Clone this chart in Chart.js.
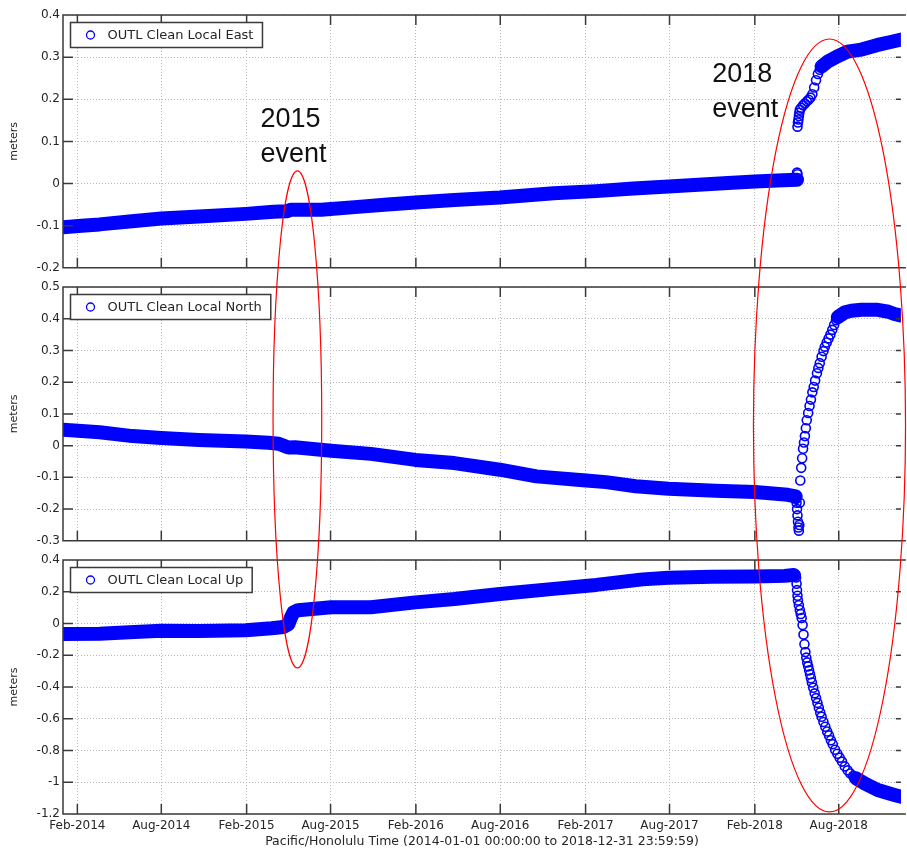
<!DOCTYPE html>
<html>
<head>
<meta charset="utf-8">
<script src="https://cdn.jsdelivr.net/npm/chart.js@4.4.1/dist/chart.umd.min.js"></script>
<style>
  html, body { margin: 0; padding: 0; background: #fff; }
  #wrap { position: relative; width: 907px; height: 849px; overflow: hidden; }
  canvas { position: absolute; left: 0; }
</style>
</head>
<body>
<div id="wrap">
  <canvas id="east" width="907" height="278" style="top:0px"></canvas>
  <canvas id="north" width="907" height="276" style="top:275px"></canvas>
  <canvas id="up" width="907" height="301" style="top:548px"></canvas>
  <canvas id="overlay" width="907" height="849" style="top:0px"></canvas>
</div>
<script>
// x values are days since 2014-01-01 (Pacific/Honolulu)
const tickDays = [31, 212, 396, 577, 761, 943, 1127, 1308, 1492, 1673];
const tickLabels = ["Feb-2014", "Aug-2014", "Feb-2015", "Aug-2015", "Feb-2016",
  "Aug-2016", "Feb-2017", "Aug-2017", "Feb-2018", "Aug-2018"];
const dayMax = 1807; // picture is cut off just before 2018-12-31

const seriesLabels = ["OUTL Clean Local East", "OUTL Clean Local North", "OUTL Clean Local Up"];
const xTitle = "Pacific/Honolulu Time (2014-01-01 00:00:00 to 2018-12-31 23:59:59)";

// === East ===
const eastBandDays = [0, 40, 79, 143, 212, 293, 394, 454, 482, 492, 507, 557, 629, 700, 760,
  844, 942, 1058, 1150, 1230, 1306, 1370, 1434, 1492, 1540, 1583, 1600, 1636, 1650, 1670,
  1692, 1722, 1757, 1785, 1808];
const eastBandValues = [-0.104, -0.100, -0.097, -0.090, -0.083, -0.078, -0.072, -0.067, -0.066, -0.062,
  -0.062, -0.062, -0.056, -0.050, -0.045, -0.039, -0.033, -0.023, -0.018, -0.012,
  -0.007, -0.003, 0.001, 0.005, 0.007, 0.009, null, 0.278, 0.290, 0.302,
  0.313, 0.318, 0.329, 0.336, 0.342];
const eastEventDays = [1583, 1584, 1584, 1585, 1586, 1587, 1588, 1589, 1592, 1596,
  1600, 1604, 1608, 1612, 1616, 1620, 1624, 1628, 1632];
const eastEventValues = [0.026, 0.022, 0.135, 0.145, 0.152, 0.160, 0.168, 0.175, 0.180, 0.186,
  0.190, 0.195, 0.199, 0.204, 0.212, 0.228, 0.245, 0.260, 0.270];

// === North ===
const northBandDays = [0, 40, 79, 150, 212, 293, 394, 443, 465, 486, 500, 578, 664, 760, 844,
  942, 1021, 1128, 1171, 1235, 1306, 1407, 1492, 1563, 1580, 1620, 1671, 1686, 1700, 1722,
  1757, 1780, 1793, 1808];
const northBandValues = [0.050, 0.046, 0.042, 0.030, 0.024, 0.018, 0.013, 0.009, 0.006, -0.006,
  -0.005, -0.016, -0.026, -0.045, -0.055, -0.076, -0.097, -0.110, -0.115, -0.128,
  -0.136, -0.142, -0.146, -0.155, -0.160, null, 0.405, 0.420, 0.425, 0.428,
  0.428, 0.422, 0.415, 0.410];
const northEventDays = [1581, 1582, 1583, 1584, 1585, 1586, 1587, 1588, 1589, 1590,
  1592, 1594, 1596, 1598, 1600, 1602, 1604, 1607, 1610, 1613,
  1616, 1619, 1622, 1626, 1629, 1632, 1636, 1640, 1643, 1647,
  1651, 1655, 1659, 1663, 1667];
const northEventValues = [-0.168, -0.180, -0.200, -0.220, -0.240, -0.258, -0.268, -0.250, -0.180, -0.110,
  -0.070, -0.040, -0.010, 0.010, 0.030, 0.055, 0.080, 0.103, 0.125, 0.145,
  0.168, 0.185, 0.205, 0.228, 0.245, 0.260, 0.280, 0.298, 0.312, 0.325,
  0.338, 0.350, 0.365, 0.380, 0.395];

// === Up ===
const upBandDays = [0, 79, 143, 212, 293, 394, 450, 475, 486, 492, 497, 507, 578, 664, 760,
  844, 942, 1058, 1150, 1250, 1306, 1400, 1492, 1556, 1576, 1600, 1710, 1730, 1757, 1775,
  1793, 1808];
const upBandValues = [-0.066, -0.064, -0.055, -0.045, -0.048, -0.042, -0.030, -0.022, -0.005, 0.040,
  0.070, 0.084, 0.102, 0.102, 0.133, 0.154, 0.186, 0.218, 0.243, 0.278,
  0.288, 0.295, 0.296, 0.300, 0.305, null, -0.975, -1.010, -1.049, -1.065,
  -1.080, -1.092];
const upEventDays = [1578, 1580, 1581, 1582, 1583, 1584, 1585, 1587, 1589, 1591,
  1593, 1595, 1597, 1599, 1601, 1603, 1605, 1607, 1609, 1611,
  1613, 1615, 1618, 1621, 1624, 1627, 1630, 1633, 1636, 1640,
  1644, 1648, 1652, 1656, 1660, 1665, 1670, 1675, 1680, 1686,
  1692, 1698, 1704];
const upEventValues = [0.310, 0.305, 0.290, 0.250, 0.210, 0.175, 0.145, 0.115, 0.085, 0.060,
  0.035, -0.010, -0.070, -0.130, -0.180, -0.215, -0.245, -0.270, -0.295, -0.320,
  -0.345, -0.372, -0.405, -0.440, -0.470, -0.500, -0.530, -0.560, -0.587, -0.620,
  -0.650, -0.680, -0.705, -0.735, -0.760, -0.795, -0.820, -0.845, -0.870, -0.900,
  -0.925, -0.945, -0.960];

// red ellipses + notes, in data units (x: days, top on East axis, bottom on Up axis)
const ellipses = [
  { fromDay: 453, toDay: 558, topEast: 0.03, bottomUp: -0.28 },
  { fromDay: 1489, toDay: 1817, topEast: 0.343, bottomUp: -1.187 },
];
const notes = [
  { lines: ["2015", "event"], day: 426, east: 0.134 },
  { lines: ["2018", "event"], day: 1400, east: 0.241 },
];

const BLUE = "#0000ff";
const INK = "#262626";
const AXIS = "#3a3a3a";
const GRID = "#b8b8b8";
const FONT = "'DejaVu Sans', sans-serif";

function pairs(days, values) {
  return days.map((d, i) => ({ x: d, y: values[i] }));
}

// box, inward ticks and the boxed legend (matlab look)
const frame = {
  id: "frame",
  afterDraw(chart) {
    const { ctx, chartArea: a, scales } = chart;
    const x = scales.x, y = scales.y;
    ctx.save();
    ctx.strokeStyle = AXIS;
    ctx.lineWidth = 1.5;
    ctx.beginPath();
    ctx.moveTo(a.right + 5, a.top);
    ctx.lineTo(a.left, a.top);
    ctx.lineTo(a.left, a.bottom);
    ctx.lineTo(a.right + 5, a.bottom);
    x.ticks.forEach((t) => {
      const p = x.getPixelForValue(t.value);
      ctx.moveTo(p, a.bottom);
      ctx.lineTo(p, a.bottom - 10);
      ctx.moveTo(p, a.top);
      ctx.lineTo(p, a.top + 10);
    });
    y.ticks.forEach((t) => {
      const p = y.getPixelForValue(t.value);
      ctx.moveTo(a.left, p);
      ctx.lineTo(a.left + 10, p);
      ctx.moveTo(a.right, p);
      ctx.lineTo(a.right - 5, p);
    });
    ctx.stroke();

    // legend
    const label = chart.data.datasets[1].label;
    ctx.font = "13px " + FONT;
    const bx = a.left + 7.5, by = a.top + 7.5, bh = 25;
    const bw = 46 + ctx.measureText(label).width;
    ctx.fillStyle = "#fff";
    ctx.fillRect(bx, by, bw, bh);
    ctx.strokeRect(bx, by, bw, bh);
    ctx.beginPath();
    ctx.arc(bx + 20, by + bh / 2, 4, 0, Math.PI * 2);
    ctx.strokeStyle = BLUE;
    ctx.lineWidth = 1.3;
    ctx.stroke();
    ctx.fillStyle = INK;
    ctx.textBaseline = "middle";
    ctx.fillText(label, bx + 37, by + bh / 2 + 0.5);
    ctx.restore();
  },
};

function makePanel(id, cfg) {
  return new Chart(document.getElementById(id), {
    type: "scatter",
    data: {
      datasets: [
        {
          label: cfg.label,
          data: pairs(cfg.bandDays, cfg.bandValues),
          showLine: true,
          borderColor: BLUE,
          borderWidth: 14,
          borderCapStyle: "round",
          borderJoinStyle: "round",
          pointRadius: 0,
          clip: 0,
        },
        {
          label: cfg.label,
          data: pairs(cfg.eventDays, cfg.eventValues),
          showLine: false,
          pointRadius: 4.5,
          pointBorderWidth: 1.6,
          borderColor: BLUE,
          backgroundColor: "rgba(0,0,0,0)",
          clip: 0,
        },
      ],
    },
    options: {
      responsive: false,
      animation: false,
      devicePixelRatio: 1,
      layout: { padding: { top: cfg.padTop, bottom: cfg.padBottom, left: 0, right: 0 } },
      plugins: { legend: { display: false }, tooltip: { enabled: false } },
      scales: {
        x: {
          type: "linear",
          min: 0,
          max: dayMax,
          afterBuildTicks: (s) => {
            s.ticks = tickDays.map((v) => ({ value: v }));
          },
          afterFit: (s) => {
            s.height = cfg.xHeight;
          },
          grid: { color: GRID, lineWidth: 1, drawTicks: false },
          border: { display: false, dash: [1, 2] },
          ticks: {
            display: cfg.showX,
            autoSkip: false,
            maxRotation: 0,
            padding: 5,
            color: INK,
            font: { family: FONT, size: 12 },
            callback: (v, i) => tickLabels[i],
          },
          title: {
            display: cfg.showX,
            text: xTitle,
            color: INK,
            font: { family: FONT, size: 12.5 },
            padding: { top: 0, bottom: 0 },
          },
        },
        y: {
          min: cfg.min,
          max: cfg.max,
          afterFit: (s) => {
            s.width = 63;
          },
          grid: { color: GRID, lineWidth: 1, drawTicks: false },
          border: { display: false, dash: [1, 2] },
          ticks: {
            stepSize: cfg.step,
            padding: 3,
            color: INK,
            font: { family: FONT, size: 12 },
            callback: (v) => String(Math.round(v * 10) / 10),
          },
          title: {
            display: true,
            text: "meters",
            color: INK,
            font: { family: FONT, size: 11 },
            padding: { top: 8, bottom: 0 },
          },
        },
      },
    },
    plugins: [frame],
  });
}

const panels = [
  makePanel("east", {
    label: seriesLabels[0], bandDays: eastBandDays, bandValues: eastBandValues,
    eventDays: eastEventDays, eventValues: eastEventValues,
    min: -0.2, max: 0.4, step: 0.1, padTop: 15, padBottom: 10, xHeight: 0, showX: false,
  }),
  makePanel("north", {
    label: seriesLabels[1], bandDays: northBandDays, bandValues: northBandValues,
    eventDays: northEventDays, eventValues: northEventValues,
    min: -0.3, max: 0.5, step: 0.1, padTop: 12, padBottom: 10, xHeight: 0, showX: false,
  }),
  makePanel("up", {
    label: seriesLabels[2], bandDays: upBandDays, bandValues: upBandValues,
    eventDays: upEventDays, eventValues: upEventValues,
    min: -1.2, max: 0.4, step: 0.2, padTop: 12, padBottom: 0, xHeight: 35, showX: true,
  }),
];

// === Overlay: red ellipses and event notes across panels ===
function drawOverlay() {
  const ctx = document.getElementById("overlay").getContext("2d");
  const east = panels[0], up = panels[2];
  const xs = up.scales.x;
  const eastTop = east.canvas.offsetTop, upTop = up.canvas.offsetTop;

  ctx.strokeStyle = "#ff0000";
  ctx.lineWidth = 1.2;
  ellipses.forEach((e) => {
    const x1 = xs.getPixelForValue(e.fromDay);
    const x2 = xs.getPixelForValue(e.toDay);
    const y1 = eastTop + east.scales.y.getPixelForValue(e.topEast);
    const y2 = upTop + up.scales.y.getPixelForValue(e.bottomUp);
    ctx.beginPath();
    ctx.ellipse((x1 + x2) / 2, (y1 + y2) / 2, (x2 - x1) / 2, (y2 - y1) / 2, 0, 0, Math.PI * 2);
    ctx.stroke();
  });

  ctx.fillStyle = "#111";
  ctx.font = "27px 'Liberation Sans', sans-serif";
  ctx.textBaseline = "alphabetic";
  notes.forEach((n) => {
    const x = xs.getPixelForValue(n.day);
    const y = eastTop + east.scales.y.getPixelForValue(n.east);
    n.lines.forEach((t, i) => ctx.fillText(t, x, y + i * 35));
  });
}

drawOverlay();
</script>
</body>
</html>
